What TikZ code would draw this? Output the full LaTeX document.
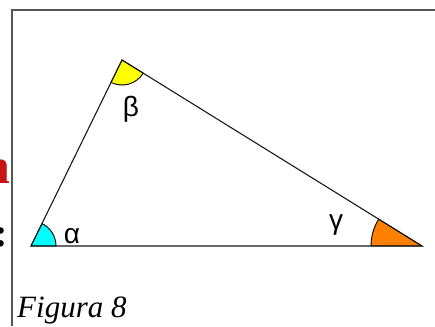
\documentclass[tikz,border=0pt]{standalone}
\usepackage{fontspec}
\setmainfont{Liberation Serif}
\newfontfamily\greekfont{Liberation Sans}
\definecolor{angorange}{RGB}{255,128,0}
\definecolor{angcyan}{RGB}{0,255,255}
\definecolor{angyellow}{RGB}{255,255,0}
\definecolor{headred}{RGB}{200,20,20}
\definecolor{framegray}{RGB}{85,85,85}
\begin{document}
\begin{tikzpicture}[x=1pt,y=-1pt,
  edge/.style={draw=black!90,line width=1.1pt},
  sector/.style={draw=black,line width=0.9pt},
  greek/.style={font=\greekfont\fontsize{28}{28}\selectfont,inner sep=0pt},
  frame/.style={draw=framegray,line width=1.3pt}]
\useasboundingbox (0,0) rectangle (435,326);
% frame lines
\coordinate (f1) at (12,326);
\coordinate (f2) at (12,10);
\coordinate (f3) at (435,10);
\draw[frame] (f1) -- (f2) -- (f3);
% clipped heading fragments
\begin{scope}
\clip (0,0) rectangle (11,326);
\node[anchor=base east,inner sep=0pt,text=headred,font=\bfseries\fontsize{50}{50}\selectfont] (hn) at (10.5,183) {n};
\node[anchor=base east,inner sep=0pt,font=\bfseries\fontsize{40}{40}\selectfont] (hc) at (8.5,246) {:};
\end{scope}
% triangle vertices
\coordinate (A) at (31,246);
\coordinate (B) at (122,60);
\coordinate (C) at (422,246);
% angle sectors
\filldraw[sector,fill=angcyan] (A) -- ++(0:25) arc[start angle=0,end angle=-63.9,radius=25] -- cycle;
\filldraw[sector,fill=angyellow] (B) -- ++(116.1:25) arc[start angle=116.1,end angle=31.8,radius=25] -- cycle;
\filldraw[sector,fill=angorange] (C) -- ++(180:51) arc[start angle=180,end angle=211.8,radius=51] -- cycle;
% triangle
\draw[edge] (A) -- (B) -- (C) -- cycle;
% labels
\node[greek] (alpha) at (72,236) {α};
\node[greek] (beta) at (131,109) {β};
\node[greek] (gamma) at (336,225) {γ};
\node[anchor=base west,inner sep=0pt,font=\itshape\fontsize{31}{31}\selectfont] (cap) at (17,317) {Figura 8};
\end{tikzpicture}
\end{document}
